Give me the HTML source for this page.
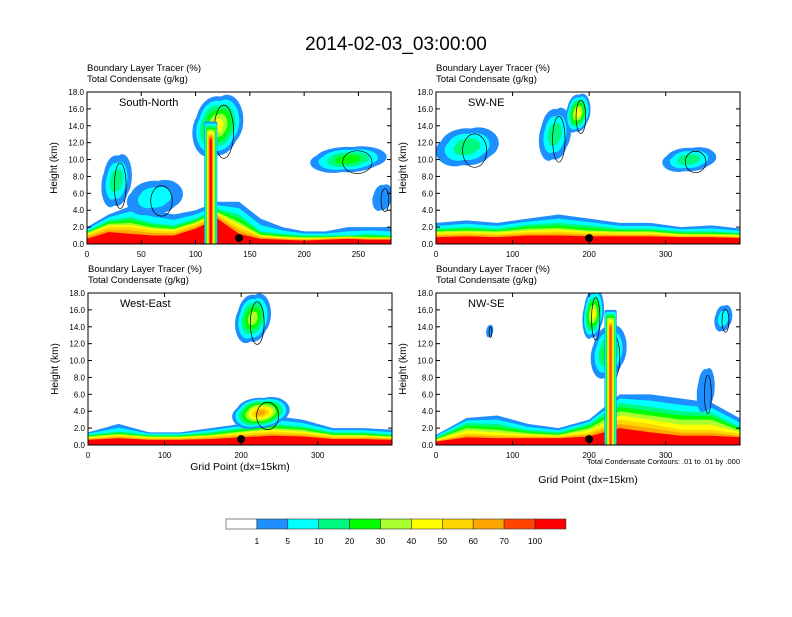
<!DOCTYPE html>
<html><head><meta charset="utf-8"><style>
body{margin:0;background:#fff;}
svg text{font-family:"Liberation Sans",sans-serif;}
</style></head><body>
<svg id="fig" width="792" height="612" xmlns="http://www.w3.org/2000/svg">
<text x="396" y="50" font-size="19" text-anchor="middle">2014-02-03_03:00:00</text>
<g id="panels"></g>
<g id="cbar"></g>
</svg>
<script>
const colors=["#ffffff","#1e8fff","#00ffff","#00fa7f","#00ff00","#aaff2f","#ffff00","#ffd700","#ffa500","#ff4500","#ff0000"];
const cbarLabels=["1","5","10","20","30","40","50","60","70","100"];
// panel data
const tlXs=[0,20,40,60,80,100,120,140,160,180,200,220,240,260,280];
const tlBlue=[2,3.5,4.5,4,3.5,4,5,5,3,2,1.5,1.5,2,2,2];
const tlGreen=[1.5,2.8,3.2,2.5,2.2,3,4.2,3.5,1.5,1.2,1,1,1,1.2,1];
const tlYellow=[1.3,2.4,2.5,2,1.8,2.6,3.8,2.6,1.1,0.9,0.8,0.8,0.9,0.8,0.8];
const tlOrange=[1.1,2,2,1.6,1.5,2.3,3.5,2,0.9,0.7,0.6,0.7,0.8,0.7,0.7];
const tlRed=[0.6,1.4,1.2,1,1,1.8,3,1.2,0.6,0.5,0.4,0.5,0.6,0.5,0.5];
// blobs: [center x, center km, half-width grid, half-height km, peak level, column flag]
const tlBlobs=[[27,7.5,12,3,3,0],[62,5.5,22,2,2,0],[120,14,20,3.5,6,0],[240,10,30,1.5,4,0],[272,5.5,8,1.5,1,0],[114,7,6,7.5,10,1]];
const trXs=[0,40,80,120,160,200,240,280,320,360,400];
const trBlue=[2.5,2.8,2.5,3,3.5,3,2.5,2.5,2,2.2,1.8];
const trGreen=[1.8,2,1.8,2.3,2.5,2.2,1.8,1.8,1.5,1.5,1.3];
const trYellow=[1.5,1.6,1.5,1.8,1.9,1.6,1.5,1.5,1.2,1.2,1.1];
const trOrange=[1.2,1.3,1.2,1.4,1.5,1.3,1.2,1.2,1,1,0.9];
const trRed=[0.8,0.9,0.8,1,1,0.9,0.9,0.9,0.8,0.8,0.7];
const trBlobs=[[40,11.5,35,2.2,3,0],[155,13,18,3,3,0],[185,15.5,14,2.2,6,0],[330,10,30,1.4,3,0]];
const blBlue=[1.5,2.5,1.5,1.5,2,2.5,3.5,3,2,2,1.8];
const blGreen=[1.2,1.6,1.2,1.2,1.5,2,2.5,2.2,1.5,1.5,1.2];
const blYellow=[1,1.3,1,1,1.2,1.6,2,1.8,1.2,1.2,1];
const blOrange=[0.8,1.1,0.8,0.8,1,1.3,1.6,1.4,1,1,0.8];
const blRed=[0.6,0.8,0.6,0.6,0.7,0.9,1.1,1,0.7,0.7,0.6];
const blBlobs=[[225,3.8,32,1.8,8,0],[215,15,20,2.8,5,0]];
const brBlue=[1.2,3.2,3.5,2.5,2,3,6,6,5.5,5,3];
const brGreen=[0.9,2.6,2.5,1.8,1.5,2.5,5,4.5,4,3.8,2];
const brYellow=[0.7,2,1.8,1.4,1.2,2,4,3.5,3,3,1.6];
const brOrange=[0.5,1.4,1.2,1.1,1,1.5,3,2.5,1.8,1.8,1.3];
const brRed=[0.4,0.9,0.8,0.8,0.8,1,2,1.5,1.1,1.1,0.9];
const brBlobs=[[225,11,20,3,4,0],[205,15.5,12,2.8,6,0],[228,8,8,8,9,1],[352,6.5,10,2.5,1,0],[375,15,10,1.5,2,0],[70,13.5,4,0.7,1,0]];

const NS="http://www.w3.org/2000/svg";
function el(t,a,p){const e=document.createElementNS(NS,t);for(const k in a)e.setAttribute(k,a[k]);p.appendChild(e);return e;}
const panels=[
 {id:"south-north",x0:87,y0:92,label:"South-North",xmax:280,ticks:[0,50,100,150,200,250],xs:tlXs,b:[tlBlue,tlGreen,tlYellow,tlOrange,tlRed],blobs:tlBlobs,dot:140},
 {id:"sw-ne",x0:436,y0:92,label:"SW-NE",xmax:397,ticks:[0,100,200,300],xs:trXs,b:[trBlue,trGreen,trYellow,trOrange,trRed],blobs:trBlobs,dot:200},
 {id:"west-east",x0:88,y0:293,label:"West-East",xmax:397,ticks:[0,100,200,300],xs:trXs,b:[blBlue,blGreen,blYellow,blOrange,blRed],blobs:blBlobs,dot:200,xt:true},
 {id:"nw-se",x0:436,y0:293,label:"NW-SE",xmax:397,ticks:[0,100,200,300],xs:trXs,b:[brBlue,brGreen,brYellow,brOrange,brRed],blobs:brBlobs,dot:200,xt:true,note:true}
];
const offs=[[0,0,1,1],[-0.45,0.25,0.7,0.8],[0.45,-0.2,0.75,0.85]];
const W=304,H=152;
const root=document.getElementById("panels");
panels.forEach(p=>{
 const g=el("g",{},root);
 
 
 const sx=v=>p.x0+v/p.xmax*W, sy=v=>p.y0+H-v/18*H;
 const cid="clip-"+p.id;
 const cp=el("clipPath",{id:cid},g);el("rect",{x:p.x0,y:p.y0,width:W,height:H},cp);
 const plot=el("g",{"clip-path":"url(#"+cid+")"},g);
 const bandIdx=[0,0.5,1,1.5,2,2.5,3,3.5,4,4.4];
 for(let L=1;L<=10;L++){
  const f=bandIdx[L-1];const i0=Math.floor(f),i1=Math.min(4,i0+1),t=f-i0;
  const pts=[[sx(0),sy(0)]];
  p.xs.forEach((x,j)=>{const v=p.b[i0][j]*(1-t)+p.b[i1][j]*t;pts.push([sx(x),sy(v)]);});
  pts.push([sx(p.xs[p.xs.length-1]),sy(0)]);
  const poly=el("polygon",{points:pts.map(q=>q.join(",")).join(" "),fill:colors[L]},plot);
  
  
 }
 p.blobs.forEach((bl,k)=>{
  const [cx,cy,rx,ry,lv,col]=bl;
  const RX=rx*W/p.xmax, RY=ry*H/18;
  for(let L=1;L<=lv;L++){
   const s=1-(L-1)/(lv+0.5);
   if(col){
    const r=el("rect",{x:sx(cx)-RX*s,y:sy(cy+ry)+ (L-1)*2,width:2*RX*s,height:sy(0)-sy(cy+ry)-(L-1)*2,fill:colors[L],rx:2},plot);
    
    
   } else {
    offs.forEach(o=>{
     const e=el("ellipse",{cx:sx(cx)+o[0]*RX*s,cy:sy(cy)+o[1]*RY*s,rx:RX*s*o[2],ry:RY*s*o[3],fill:colors[L]},plot);
     
     
    });
   }
  }
  if(!col){
   const c=el("ellipse",{cx:sx(cx)+RX*0.3,cy:sy(cy)+RY*0.2,rx:RX*0.45,ry:RY*0.9,fill:"none",stroke:"#000","stroke-width":0.7},plot);
   
   
  }
 });
 const d=el("circle",{cx:sx(p.dot),cy:sy(0.7),r:4,fill:"#000"},g);
 
 
 el("rect",{x:p.x0,y:p.y0,width:W,height:H,fill:"none",stroke:"#000","stroke-width":1},g);
 for(let v=0;v<=18;v+=2){
  el("line",{x1:p.x0,x2:p.x0+4,y1:sy(v),y2:sy(v),stroke:"#000"},g);
  el("line",{x1:p.x0+W,x2:p.x0+W-4,y1:sy(v),y2:sy(v),stroke:"#000"},g);
  const t=el("text",{x:p.x0-3,y:sy(v)+3,"font-size":8,"text-anchor":"end"},g);t.textContent=v.toFixed(1);
  
  
 }
 p.ticks.forEach(v=>{
  el("line",{x1:sx(v),x2:sx(v),y1:p.y0+H,y2:p.y0+H-4,stroke:"#000"},g);
  el("line",{x1:sx(v),x2:sx(v),y1:p.y0,y2:p.y0+4,stroke:"#000"},g);
  const t=el("text",{x:sx(v),y:p.y0+H+13,"font-size":8,"text-anchor":"middle"},g);t.textContent=v;
  
  
 });
 const yl=el("text",{x:0,y:0,"font-size":10,"text-anchor":"middle",transform:`translate(${p.x0-30},${p.y0+H/2}) rotate(-90)`},g);yl.textContent="Height (km)";
 
 
 const h1=el("text",{x:p.x0,y:p.y0-21,"font-size":9.5},g);h1.textContent="Boundary Layer Tracer   (%)";
 
 
 const h2=el("text",{x:p.x0,y:p.y0-10,"font-size":9.5},g);h2.textContent="Total Condensate   (g/kg)";
 
 
 const lb=el("text",{x:p.x0+32,y:p.y0+14,"font-size":11},g);lb.textContent=p.label;
 
 
 if(p.xt){const xt=el("text",{x:p.x0+W/2,y:p.y0+H+(p.note?38:25),"font-size":10.5,"text-anchor":"middle"},g);xt.textContent="Grid Point (dx=15km)";
  
  }
 if(p.note){const n=el("text",{x:p.x0+W,y:p.y0+H+19,"font-size":7.5,"text-anchor":"end"},g);n.textContent="Total Condensate Contours: .01 to .01 by .000";
  
  }
});
const cb=document.getElementById("cbar");
colors.forEach((c,i)=>{
 const r=el("rect",{x:226+i*30.9,y:519,width:30.9,height:10,fill:c,stroke:"#333","stroke-width":0.6},cb);
 
 
});
cbarLabels.forEach((l,i)=>{
 const t=el("text",{x:226+(i+1)*30.9,y:544,"font-size":8.5,"text-anchor":"middle"},cb);t.textContent=l;
 
 
});
</script>
</body></html>
